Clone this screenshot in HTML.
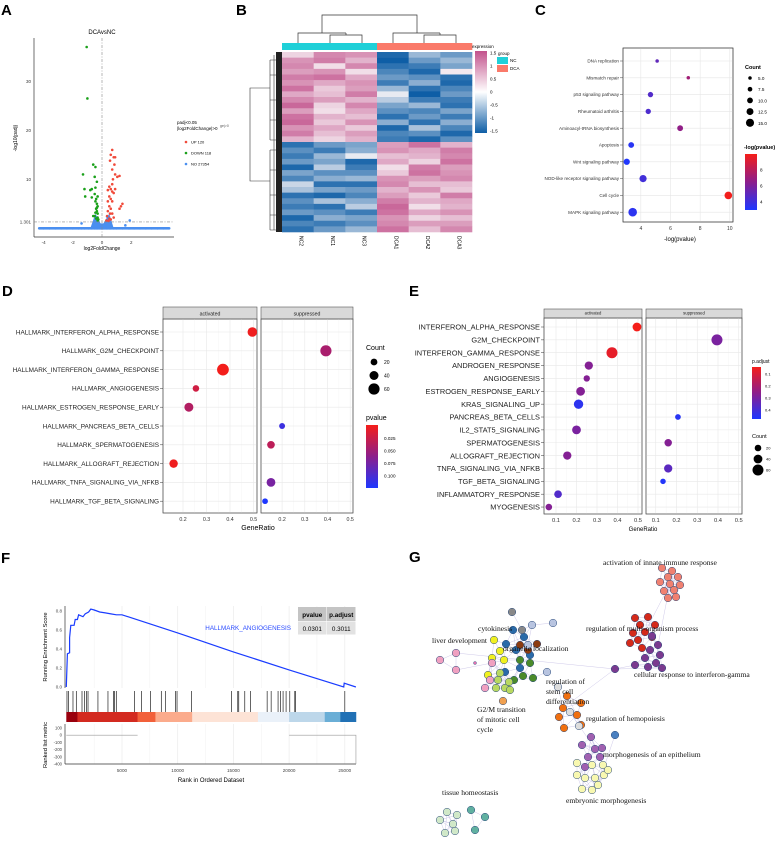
<!DOCTYPE html>
<html><head><meta charset="utf-8"><title>Figure</title>
<style>
html,body{margin:0;padding:0;background:#fff;}
svg{display:block;font-family:"Liberation Sans",sans-serif;}
.pl{font-weight:bold;font-size:15px;}
.serif{font-family:"Liberation Serif",serif;}
</style></head>
<body>
<svg id="fig" width="783" height="841" viewBox="0 0 783 841" xmlns="http://www.w3.org/2000/svg">
<rect width="783" height="841" fill="#fff"/>
<text class="pl" x="1" y="15">A</text>
<text class="pl" x="236" y="15">B</text>
<text class="pl" x="535" y="15">C</text>
<text class="pl" x="2" y="296">D</text>
<text class="pl" x="409" y="296">E</text>
<text class="pl" x="1" y="563">F</text>
<text class="pl" x="409" y="562">G</text>

<g stroke="#333" stroke-width="0.7" fill="none">
<path d="M322,33 V15 H417 V33"/>
<path d="M298,43 V33 H346"/><path d="M330,43 V35 H362 V43"/>
<path d="M393,43 V33 H440"/><path d="M424,43 V35 H456 V43"/>
<path d="M346,33 V35"/><path d="M440,33 V35"/>
</g>
<g stroke="#333" stroke-width="0.6" fill="none">
<path d="M270,88 H250 V181 H270"/>
<path d="M270,60 V140 M270,150 V230"/>
<path d="M270,60 H276 M270,75 H276 M270,100 H276 M270,120 H276 M270,140 H276 M270,150 H276 M270,170 H276 M270,195 H276 M270,215 H276 M270,230 H276"/>
<path d="M274,55 V230"/>
</g>
<rect x="276" y="52" width="6" height="180" fill="#222"/>
</svg>
<script>
const NS='http://www.w3.org/2000/svg';
const svg=document.getElementById('fig');
function mk(tag,attrs,parent){const e=document.createElementNS(NS,tag);for(const k in attrs)e.setAttribute(k,attrs[k]);(parent||svg).appendChild(e);return e;}
function tx(x,y,s,size,opts){const e=mk('text',Object.assign({x:x,y:y,'font-size':size},opts||{}));e.textContent=s;return e;}
function lerpCol(c1,c2,t){t=Math.max(0,Math.min(1,t));const r=Math.round(c1[0]+(c2[0]-c1[0])*t),g=Math.round(c1[1]+(c2[1]-c1[1])*t),b=Math.round(c1[2]+(c2[2]-c1[2])*t);return 'rgb('+r+','+g+','+b+')';}
const RED=[245,30,25],PUR=[140,30,140],BLU=[30,55,255];
function rb(t){return t<0.5?lerpCol(RED,PUR,t*2):lerpCol(PUR,BLU,(t-0.5)*2);}

/* ================= Panel A: volcano ================= */
const volcDownX=[-1.05,-1.0,-0.6,-0.45,-1.3,-0.5,-0.35,-1.2,-0.8,-0.7,-0.45,-0.5,-0.3,-1.15,-0.7,-0.4,-0.35,-0.45,-0.3,-0.4,-0.35,-0.3,-0.5,-0.3,-0.25,-0.4,-0.6,-0.3,-0.45,-0.35];
const volcDownY=[37,26.5,13,12.5,11,10.5,9.5,8,7.8,8,8.3,7,6.5,6.5,6.3,6,5,5.5,4.5,4,3.5,3,2.5,2.2,1.8,2,2.5,1.6,3.2,4.2];
const volcUpX=[0.7,0.6,0.8,0.9,0.55,0.85,0.7,0.9,1.2,1.05,0.75,0.7,0.5,0.9,0.4,0.6,0.7,0.8,0.5,0.6,0.4,0.7,1.4,1.3,1.2,0.5,0.6,0.4,0.55,0.7,0.35,0.5,0.6,0.3,0.8,0.45];
const volcUpY=[16,15,14.5,14.5,13.8,13,12,11,10.7,10.5,10,9,8.5,8,7.8,8,7.5,7.2,6.5,6,5.5,5.5,5,4.5,4,4.5,4,3.5,3,3,2.5,2,1.8,1.6,2.2,1.5];
const volcNsX=[-4.3,-4.0,-3.6,-3.2,-2.8,-2.4,-2.0,-1.6,-1.4,-1.2,-0.9,-0.7,-0.5,-0.4,-0.3,-0.2,-0.1,0.1,0.2,0.3,0.4,0.5,0.6,0.8,1.0,1.4,1.8,1.9,2.2,2.6,3.0,3.4,3.8,4.2,4.6,-0.6,-0.5,-0.45,-0.4,-0.35,-0.3,-0.25,0.25,0.3,0.35,0.4,0.45,0.5,0.55,-1.4,1.6,1.9];
const volcNsY=[0,0,0,0,0,0,0,0,0,0,0,0,0,0,0,0,0,0,0,0,0,0,0,0,0,0,0,0,0,0,0,0,0,0,0,0.5,1.2,0.8,1.6,2.2,1.0,0.4,0.6,1.4,2.4,1.0,1.8,0.7,1.2,1.0,0.6,1.6];
const volcXTicks=[-4,-2,0,2];
const volcYTicks=[1.301,10,20,30];
const ax=v=>102+v*14.6, ay=v=>228.3-v*4.9;
{
 let l=mk('line',{x1:34,y1:38,x2:34,y2:237,stroke:'#333','stroke-width':0.7});
 
 
 l=mk('line',{x1:34,y1:237,x2:174,y2:237,stroke:'#333','stroke-width':0.7});
 
 
 const band=mk('rect',{x:ax(-4.3),y:ay(0)-1.3,width:ax(4.6)-ax(-4.3),height:2.6,fill:'#4a8ff0'});
 
 
 const blob=mk('path',{d:'M'+ax(-0.8)+','+ay(0)+' L'+ax(-0.45)+','+ay(3)+' L'+ax(-0.1)+','+ay(1)+' L'+ax(0.1)+','+ay(1)+' L'+ax(0.5)+','+ay(3)+' L'+ax(0.8)+','+ay(0)+'Z',fill:'#4a8ff0'});
 
 
 for(let i=0;i<volcNsX.length;i++){const c=mk('circle',{cx:ax(volcNsX[i]),cy:ay(volcNsY[i]),r:1.3,fill:'#4a8ff0'});
  
  }
 for(let i=0;i<volcDownX.length;i++){const c=mk('circle',{cx:ax(volcDownX[i]),cy:ay(volcDownY[i]),r:1.3,fill:'#1aa01a'});
  
  }
 for(let i=0;i<volcUpX.length;i++){const c=mk('circle',{cx:ax(volcUpX[i]),cy:ay(volcUpY[i]),r:1.3,fill:'#f04a3a'});
  
  }
 l=mk('line',{x1:34,y1:ay(1.301),x2:174,y2:ay(1.301),stroke:'#888','stroke-width':0.6,'stroke-dasharray':'3,1.5,1,1.5'});
 
 
 l=mk('line',{x1:ax(0),y1:38,x2:ax(0),y2:237,stroke:'#888','stroke-width':0.6,'stroke-dasharray':'3,1.5,1,1.5'});
 
 
 for(const t of volcXTicks){const e=tx(ax(t),244,String(t),4.5,{'text-anchor':'middle',fill:'#333'});
  
  }
 for(const t of volcYTicks){const e=tx(31,ay(t)+1.5,String(t),4.5,{'text-anchor':'end',fill:'#333'});
  
  }
 let e=tx(102,34,'DCAvsNC',6,{'text-anchor':'middle'});
 
 
 e=tx(102,250,'log2FoldChange',5,{'text-anchor':'middle'});
 
 
 e=tx(0,0,'-log10(padj)',5,{'text-anchor':'middle',transform:'translate(17,138) rotate(-90)'});
 
 
 e=tx(177,124,'padj<0.05',4.5,{});
 
 
 e=tx(177,130,'|log2FoldChange|>0',4.5,{});
 
 
 const legLab=['UP 120','DOWN 118','NO 27354'],legCol=['#f04a3a','#1aa01a','#4a8ff0'];
 for(let i=0;i<3;i++){const c=mk('circle',{cx:186,cy:142+i*11,r:1.3,fill:legCol[i]});
  
  
  const t=tx(191,143.5+i*11,legLab[i],4,{});
  
  }
}

/* ================= Panel B: heatmap ================= */
const hmSamples=['NC2','NC1','NC3','DCA1','DCA2','DCA3'];
const hmValues=[
[0.3,1.0,0.9,-1.4,-0.6,-0.9],[0.9,1.1,0.6,-1.5,-0.9,-0.6],[1.0,0.2,1.0,-1.3,-1.2,-0.8],[0.8,0.9,0.2,-1.1,-1.4,0.1],
[1.1,1.2,0.7,-0.9,-1.0,-1.3],[0.9,0.7,0.9,-1.2,-0.7,-1.4],[1.2,0.4,0.8,-0.6,-1.3,-1.1],[0.7,0.5,1.1,-0.1,-1.5,-0.9],
[1.0,0.8,0.6,-0.4,-1.2,-1.2],[1.3,0.3,1.0,-0.8,-0.6,-1.3],[0.8,0.2,0.7,-1.0,-1.1,-0.8],[1.2,0.6,0.5,-1.3,-0.9,-1.2],
[1.3,0.4,0.9,-0.7,-1.3,-0.7],[0.9,0.7,0.4,-1.4,-0.5,-1.1],[1.1,0.5,0.8,-1.1,-1.0,-1.4],[0.6,0.3,0.6,-1.2,-1.4,-1.0],
[-1.3,-0.9,-0.8,0.8,1.2,0.6],[-1.0,-1.2,-0.7,0.9,0.7,1.1],[-1.2,-0.6,-0.1,0.5,0.6,1.0],[-0.9,-0.8,-1.4,0.7,0.3,1.2],
[-1.4,-0.4,-1.2,0.2,1.1,0.8],[-0.8,-1.0,-1.0,0.4,1.2,0.9],[-1.1,-0.7,-0.6,0.9,0.8,1.0],[-0.3,-1.3,-1.3,1.0,0.5,0.5],
[-0.5,-0.8,-0.9,0.6,0.9,0.4],[-1.3,-1.4,-1.1,0.8,0.4,1.1],[-1.0,-0.5,-0.7,1.1,0.6,0.7],[-1.2,-1.3,-0.4,1.3,0.2,0.6],
[-0.9,-1.0,-1.2,1.2,0.7,0.9],[-1.4,-0.7,-0.8,0.9,0.3,0.5],[-1.1,-1.2,-1.0,1.0,0.8,0.8],[-1.3,-0.9,-0.6,1.2,0.5,1.0]];
const hmLegendTicks=[1.5,1,0.5,0,-0.5,-1,-1.5];
const HB=[14,94,166],HW=[248,244,246],HP=[194,82,140];
function hmCol(v){return v<0?lerpCol(HW,HB,-v/1.5):lerpCol(HW,HP,v/1.5);}
{
 const x0=282,x1=472,y0=52,y1=232,cw=(x1-x0)/hmSamples.length,rh=(y1-y0)/hmValues.length;
 for(let r=0;r<hmValues.length;r++)for(let c=0;c<hmSamples.length;c++){
  const e=mk('rect',{x:x0+c*cw,y:y0+r*rh,width:cw+0.3,height:rh+0.3,fill:hmCol(hmValues[r][c])});
  
  }
 for(let c=0;c<hmSamples.length;c++){
  const g=mk('rect',{x:x0+c*cw,y:43,width:cw+0.3,height:7,fill:c<3?'#1fd0d8':'#fa7a6a'});
  
  
  const cx=x0+(c+0.5)*cw;
  const t=tx(0,0,hmSamples[c],5,{'text-anchor':'start',transform:'translate('+(cx+1.5)+',236) rotate(90)'});
  
  }
 const defs=mk('defs',{});
 const lg=mk('linearGradient',{id:'hmg',x1:0,y1:0,x2:0,y2:1},defs);
 mk('stop',{offset:'0','stop-color':'rgb(194,82,140)'},lg);mk('stop',{offset:'0.5','stop-color':'#fff'},lg);mk('stop',{offset:'1','stop-color':'rgb(14,94,166)'},lg);
 const gb=mk('rect',{x:475,y:51,width:12,height:82,fill:'url(#hmg)'});
 
 
 for(const t of hmLegendTicks){const e=tx(490,92-t*26+1.5,String(t),4.5,{});
  
  }
 let e=tx(472,48,'expression',4.5,{});
 
 
 e=tx(498,55,'group',4.5,{});
 
 
 const gl=['NC','DCA'],gc=['#1fd0d8','#fa7a6a'];
 for(let i=0;i<2;i++){const r=mk('rect',{x:497,y:57+i*8,width:11,height:7,fill:gc[i]});
  
  
  const t=tx(510,62+i*8,gl[i],4.5,{});
  
  }
 e=tx(220,127,'ge|>0',3.5,{fill:'#555'});
 
 
}

/* ================= Panel C: KEGG bubble ================= */
const keggTerms=['DNA replication','Mismatch repair','p53 signaling pathway','Rheumatoid arthritis','Aminoacyl-tRNA biosynthesis','Apoptosis','Wnt signaling pathway','NOD-like receptor signaling pathway','Cell cycle','MAPK signaling pathway'];
const keggLogP=[5.1,7.2,4.65,4.5,6.65,3.35,3.05,4.15,9.9,3.45];
const keggCount=[5,5,9,9,10,10,11,13,14,16];
const keggXTicks=[4,6,8,10];
const keggCountLegend=[5.0,7.5,10.0,12.5,15.0];
const keggColorTicks=[8,6,4];
{
 const L=623,R=733;
 const cx=v=>626+(v-3)*14.83, cy=i=>61+i*16.8, cr=n=>0.6+n*0.23;
 const cc=v=>rb(1-(v-3)/7);
 mk('rect',{x:L,y:48,width:R-L,height:174,fill:'#fff',stroke:'#444','stroke-width':0.6});
 for(const t of keggXTicks){mk('line',{x1:cx(t),y1:48,x2:cx(t),y2:222,stroke:'#e6e6e6','stroke-width':0.6});
  const e=tx(cx(t),230,String(t),5,{'text-anchor':'middle',fill:'#333'});
  
  }
 for(let i=0;i<keggTerms.length;i++){mk('line',{x1:L,y1:cy(i),x2:R,y2:cy(i),stroke:'#e6e6e6','stroke-width':0.6});
  mk('line',{x1:L-3,y1:cy(i),x2:L,y2:cy(i),stroke:'#444','stroke-width':0.5});
  const e=tx(L-4,cy(i)+1.6,keggTerms[i],4.6,{'text-anchor':'end',fill:'#333'});
  
  }
 mk('rect',{x:L,y:48,width:R-L,height:174,fill:'none',stroke:'#444','stroke-width':0.6});
 for(let i=0;i<keggTerms.length;i++){const c=mk('circle',{cx:cx(keggLogP[i]),cy:cy(i),r:cr(keggCount[i]),fill:cc(keggLogP[i])});
  
  }
 let e=tx(680,241,'-log(pvalue)',6,{'text-anchor':'middle'});
 
 
 e=tx(745,69,'Count',5.5,{'font-weight':'bold'});
 
 
 for(let i=0;i<keggCountLegend.length;i++){const c=mk('circle',{cx:750,cy:78+i*11.2,r:cr(keggCountLegend[i]),fill:'#000'});
  
  
  const t=tx(758,80+i*11.2,keggCountLegend[i].toFixed(1),4.6,{});
  
  }
 e=tx(744,149,'-log(pvalue)',5.5,{'font-weight':'bold'});
 
 
 const defs=mk('defs',{});
 const lg=mk('linearGradient',{id:'cg',x1:0,y1:0,x2:0,y2:1},defs);
 mk('stop',{offset:'0','stop-color':rb(0)},lg);mk('stop',{offset:'0.5','stop-color':rb(0.5)},lg);mk('stop',{offset:'1','stop-color':rb(1)},lg);
 const gb=mk('rect',{x:745,y:154,width:12,height:56,fill:'url(#cg)'});
 
 
 for(const t of keggColorTicks){const y=154+(10-t)/7*56;const e=tx(760,y+1.5,String(t),4.6,{});
  
  }
}

/* ================= Facet dot plots (D, E) ================= */
function facetPanel(o){
 const panels=[{x0:o.ax0,x1:o.ax1,z:o.azero,s:o.ascale,title:'activated'},{x0:o.sx0,x1:o.sx1,z:o.szero,s:o.sscale,title:'suppressed'}];
 for(const p of panels){
  mk('rect',{x:p.x0,y:o.top,width:p.x1-p.x0,height:o.bottom-o.top,fill:'#fff',stroke:'#555','stroke-width':0.6});
  const st=mk('rect',{x:p.x0,y:o.stripTop,width:p.x1-p.x0,height:o.top-o.stripTop,fill:'#d9d9d9',stroke:'#555','stroke-width':0.6});
  
  
  const e=tx((p.x0+p.x1)/2,o.top-3.5,p.title,o.stripFont,{'text-anchor':'middle',fill:'#222'});
  
  
  for(const t of o.xticks){const x=p.z+t*p.s;if(x<p.x0-0.5||x>p.x1+0.5)continue;
   mk('line',{x1:x,y1:o.top,x2:x,y2:o.bottom,stroke:'#e8e8e8','stroke-width':0.6});
   const mx=x+p.s*0.05;if(mx<p.x1)mk('line',{x1:mx,y1:o.top,x2:mx,y2:o.bottom,stroke:'#f3f3f3','stroke-width':0.4});
   const tl=tx(x,o.bottom+8,String(t),o.tickFont,{'text-anchor':'middle',fill:'#333'});
   
   }
  for(let i=0;i<o.terms.length;i++){const y=o.y0+i*o.dy;mk('line',{x1:p.x0,y1:y,x2:p.x1,y2:y,stroke:'#e8e8e8','stroke-width':0.6});}
  mk('rect',{x:p.x0,y:o.top,width:p.x1-p.x0,height:o.bottom-o.top,fill:'none',stroke:'#555','stroke-width':0.6});
 }
 for(let i=0;i<o.terms.length;i++){const y=o.y0+i*o.dy;
  mk('line',{x1:o.ax0-3,y1:y,x2:o.ax0,y2:y,stroke:'#333','stroke-width':0.5});
  const e=tx(o.ax0-4,y+o.labFont*0.36,o.terms[i],o.labFont,{'text-anchor':'end',fill:'#222'});
  
  
  const side=o.side[i],p=panels[side];
  const c=mk('circle',{cx:p.z+o.ratio[i]*p.s,cy:y,r:o.rad(o.count[i]),fill:o.col(o.pv[i])});
  
  }
 const e=tx((o.ax0+o.sx1)/2,o.bottom+17,'GeneRatio',o.axFont,{'text-anchor':'middle'});
 
 
}

/* Panel D */
const dTerms=['HALLMARK_INTERFERON_ALPHA_RESPONSE','HALLMARK_G2M_CHECKPOINT','HALLMARK_INTERFERON_GAMMA_RESPONSE','HALLMARK_ANGIOGENESIS','HALLMARK_ESTROGEN_RESPONSE_EARLY','HALLMARK_PANCREAS_BETA_CELLS','HALLMARK_SPERMATOGENESIS','HALLMARK_ALLOGRAFT_REJECTION','HALLMARK_TNFA_SIGNALING_VIA_NFKB','HALLMARK_TGF_BETA_SIGNALING'];
const dSide=[0,1,0,0,0,1,1,0,1,1];
const dRatio=[0.495,0.393,0.37,0.255,0.225,0.2,0.151,0.16,0.151,0.125];
const dCount=[45,60,65,18,40,12,28,35,38,10];
const dPvalue=[0.008,0.045,0.006,0.025,0.04,0.1,0.035,0.008,0.07,0.115];
const dXTicks=[0.2,0.3,0.4,0.5];
const dCountLegend=[20,40,60];
const dPTicks=['0.025','0.050','0.075','0.100'];
facetPanel({terms:dTerms,side:dSide,ratio:dRatio,count:dCount,pv:dPvalue,xticks:dXTicks,
 ax0:163,ax1:257,azero:136,ascale:235,sx0:261,sx1:353,szero:236.7,sscale:227,
 stripTop:307,top:319,bottom:513,y0:332,dy:18.8,labFont:6.4,stripFont:5.2,tickFont:5.3,axFont:7,
 rad:n=>2.3+n*0.055,col:v=>rb((v-0.005)/0.11)});
{
 let e=tx(366,350,'Count',7,{});
 
 
 for(let i=0;i<dCountLegend.length;i++){const c=mk('circle',{cx:374,cy:362+i*13.5,r:2.3+dCountLegend[i]*0.055,fill:'#000'});
  
  
  const t=tx(384,364+i*13.5,String(dCountLegend[i]),5,{});
  
  }
 e=tx(366,420,'pvalue',7,{});
 
 
 const defs=mk('defs',{});
 const lg=mk('linearGradient',{id:'dg',x1:0,y1:0,x2:0,y2:1},defs);
 mk('stop',{offset:'0','stop-color':rb(0)},lg);mk('stop',{offset:'0.5','stop-color':rb(0.5)},lg);mk('stop',{offset:'1','stop-color':rb(1)},lg);
 const gb=mk('rect',{x:366,y:425,width:12,height:63,fill:'url(#dg)'});
 
 
 for(let i=0;i<dPTicks.length;i++){const t=tx(384,440+i*12.5,dPTicks[i],4.6,{});
  
  }
}

/* Panel E */
const eTerms=['INTERFERON_ALPHA_RESPONSE','G2M_CHECKPOINT','INTERFERON_GAMMA_RESPONSE','ANDROGEN_RESPONSE','ANGIOGENESIS','ESTROGEN_RESPONSE_EARLY','KRAS_SIGNALING_UP','PANCREAS_BETA_CELLS','IL2_STAT5_SIGNALING','SPERMATOGENESIS','ALLOGRAFT_REJECTION','TNFA_SIGNALING_VIA_NFKB','TGF_BETA_SIGNALING','INFLAMMATORY_RESPONSE','MYOGENESIS'];
const eSide=[0,1,0,0,0,0,0,1,0,1,0,1,1,0,0];
const eRatio=[0.495,0.395,0.373,0.26,0.25,0.22,0.21,0.207,0.2,0.16,0.155,0.16,0.135,0.11,0.065];
const eCount=[40,60,60,35,18,40,45,12,40,28,35,35,10,30,20];
const ePadj=[0.05,0.3,0.08,0.28,0.28,0.28,0.45,0.46,0.3,0.28,0.28,0.36,0.47,0.38,0.28];
const eXTicks=[0.1,0.2,0.3,0.4,0.5];
const eCountLegend=[20,40,60];
const ePTicks=[0.1,0.2,0.3,0.4];
facetPanel({terms:eTerms,side:eSide,ratio:eRatio,count:eCount,pv:ePadj,xticks:eXTicks,
 ax0:544,ax1:642,azero:535.5,ascale:205,sx0:646,sx1:742,szero:635,sscale:207.5,
 stripTop:309,top:318,bottom:514,y0:327,dy:12.86,labFont:7.4,stripFont:4.2,tickFont:5.8,axFont:6,
 rad:n=>2.2+n*0.055,col:v=>rb((v-0.05)/0.43)});
{
 let e=tx(752,363,'p.adjust',5,{});
 
 
 const defs=mk('defs',{});
 const lg=mk('linearGradient',{id:'eg',x1:0,y1:0,x2:0,y2:1},defs);
 mk('stop',{offset:'0','stop-color':rb(0)},lg);mk('stop',{offset:'0.5','stop-color':rb(0.5)},lg);mk('stop',{offset:'1','stop-color':rb(1)},lg);
 const gb=mk('rect',{x:752,y:367,width:9,height:52,fill:'url(#eg)'});
 
 
 for(const t of ePTicks){const t2=tx(765,374+(t-0.1)*120+1.5,String(t),4,{});
  
  }
 e=tx(752,438,'Count',5.5,{});
 
 
 for(let i=0;i<eCountLegend.length;i++){const c=mk('circle',{cx:758,cy:448+i*11,r:2.2+eCountLegend[i]*0.055,fill:'#000'});
  
  
  const t=tx(766,449.5+i*11,String(eCountLegend[i]),4,{});
  
  }
}

/* ================= Panel F: GSEA ================= */
const gseaRank=[0,100,300,300,400,700,800,1000,1100,1500,1700,2000,2200,2500,3000,3500,4000,4500,5000,10000,15000,20000,24900,24950,26000];
const gseaES=[0,0.35,0.36,0.52,0.65,0.65,0.71,0.71,0.76,0.74,0.77,0.79,0.82,0.81,0.79,0.78,0.77,0.76,0.76,0.57,0.37,0.18,0.0,0.04,0.0];
const gseaHits=[60,210,600,900,1410,1620,1800,1950,2840,3740,4250,4340,4490,6110,6740,7550,8530,8890,9790,9940,11230,14820,15390,15480,16020,16530,18030,18390,19010,19220,19460,19730,20060,20510,20570,25000];
const gseaBandStart=[0,1000,6400,8000,11300,17200,20000,23200,24600];
const gseaBandEnd=[1000,6400,8000,11300,17200,20000,23200,24600,26000];
const gseaBandColor=['#99000d','#d32a20','#f2603a','#fbab8c','#fde3d6','#eaf1f9','#bdd7ea','#6aaed6','#2171b5'];
const gseaESTicks=[0.0,0.2,0.4,0.6,0.8];
const gseaMetricTicks=[100,0,-100,-200,-300,-400];
const gseaXTicks=[5000,10000,15000,20000,25000];
{
 const fx=r=>66.3+r*55.7/5000, fy=v=>687-v*95, my=m=>735.2-m*0.072;
 for(let r=2500;r<=25000;r+=2500){mk('line',{x1:fx(r),y1:606,x2:fx(r),y2:688,stroke:'#ececec','stroke-width':r%5000?0.4:0.7});
  mk('line',{x1:fx(r),y1:724,x2:fx(r),y2:764,stroke:'#ececec','stroke-width':r%5000?0.4:0.7});}
 mk('line',{x1:65,y1:606,x2:65,y2:688,stroke:'#333','stroke-width':0.7});
 mk('line',{x1:65,y1:724,x2:65,y2:764,stroke:'#333','stroke-width':0.7});
 mk('line',{x1:65,y1:764,x2:356,y2:764,stroke:'#333','stroke-width':0.7});
 for(const t of gseaESTicks){const e=tx(62,fy(t)+1.5,t.toFixed(1),4.5,{'text-anchor':'end',fill:'#444'});
  
  }
 for(const t of gseaMetricTicks){const e=tx(62,my(t)+1.5,String(t),4.2,{'text-anchor':'end',fill:'#444'});
  
  }
 for(const t of gseaXTicks){const e=tx(fx(t),772,String(t),4.6,{'text-anchor':'middle',fill:'#444'});
  
  }
 let pts=gseaRank.map((r,i)=>fx(r).toFixed(1)+','+fy(gseaES[i]).toFixed(1)).join(' ');
 const pl=mk('polyline',{points:pts,fill:'none',stroke:'#1a3cff','stroke-width':1.2});
 
 
 for(const h of gseaHits){const l=mk('line',{x1:fx(h),y1:691,x2:fx(h),y2:712,stroke:'#222','stroke-width':0.7});
  
  }
 for(let i=0;i<gseaBandStart.length;i++){const r=mk('rect',{x:fx(gseaBandStart[i]),y:712,width:fx(gseaBandEnd[i])-fx(gseaBandStart[i])+0.3,height:10,fill:gseaBandColor[i]});
  
  }
 let l=mk('line',{x1:fx(0),y1:my(0),x2:fx(6400),y2:my(0),stroke:'#999','stroke-width':0.6});
 
 
 l=mk('path',{d:'M'+fx(20000)+','+my(0)+' H'+fx(26000)+' V'+my(-400),fill:'none',stroke:'#999','stroke-width':0.6});
 
 
 let e=tx(0,0,'Running Enrichment Score',5.8,{'text-anchor':'middle',transform:'translate(47,647) rotate(-90)'});
 
 
 e=tx(0,0,'Ranked list metric',5.8,{'text-anchor':'middle',transform:'translate(47,745) rotate(-90)'});
 
 
 e=tx(211,782,'Rank in Ordered Dataset',6,{'text-anchor':'middle'});
 
 
 e=tx(291,630,'HALLMARK_ANGIOGENESIS',6.3,{'text-anchor':'end',fill:'#2a4bff'});
 
 
 const hdr=['pvalue','p.adjust'],vals=['0.0301','0.3011'],cx=[298,327];
 for(let i=0;i<2;i++){
  let r=mk('rect',{x:cx[i],y:607,width:28.5,height:14,fill:'#c4c4c4'});
  
  
  r=mk('rect',{x:cx[i],y:621.5,width:28.5,height:13,fill:'#e2e2e2'});
  
  
  let t=tx(cx[i]+14.25,617,hdr[i],6.3,{'text-anchor':'middle','font-weight':'bold'});
  
  
  t=tx(cx[i]+14.25,631,vals[i],6.3,{'text-anchor':'middle'});
  
  }
}

/* ================= Panel G: network ================= */
const netClusterColor=['#f08070','#d42a1a','#7a3a8f','#2a6aa8','#4a8a2a','#f0f020','#b8d860','#8b3a10','#888888','#b8c4e0','#f0a0c0','#f07010','#dddddd','#a060b0','#f8f8b0','#4a80c0','#d0e8c8','#60b0a0','#f0a050'];
const netNodeX=[662,672,668,678,660,670,680,664,674,668,676, 635,648,655,640,633,645,652,638,630,642, 652,658,650,660,645,656,635,615,648,662,
513,524,506,516,505,530,520, 520,530,523,533,514, 494,500,492,504,488, 500,498,505,496,510,509, 520,537,528, 512,522, 532,553,547,528, 440,456,456,492,490,485,
567,581,563,577,559,564,581, 570,579,558, 591,582,595,602,588,600,585, 577,592,603,577,585,595,604,608,582,592,598, 615, 447,440,453,457,445,455, 471,485,475, 503];
const netNodeY=[568,571,577,577,582,584,585,591,590,598,597, 618,617,625,625,633,632,637,640,643,648, 636,645,650,655,658,663,665,669,667,668,
630,637,644,650,672,655,668, 660,663,676,678,680, 640,651,658,660,675, 673,680,688,688,690,682, 645,644,650, 612,630, 625,623,672,645, 660,653,670,663,680,688,
696,703,708,715,717,728,725, 712,726,687, 737,745,749,748,757,757,767, 763,765,765,775,778,778,775,770,789,790,785, 735, 812,820,824,815,833,831, 810,817,830, 701];
const netNodeCluster=[0,0,0,0,0,0,0,0,0,0,0, 1,1,1,1,1,1,1,1,1,1, 2,2,2,2,2,2,2,2,2,2,
3,3,3,3,3,3,3, 4,4,4,4,4, 5,5,5,5,5, 6,6,6,6,6,6, 7,7,7, 8,8, 9,9,9,9, 10,10,10,10,10,10,
11,11,11,11,11,11,11, 12,12,12, 13,13,13,13,13,13,13, 14,14,14,14,14,14,14,14,14,14,14, 15, 16,16,16,16,16,16, 17,17,17, 18];
const netLabels=['activation of innate immune response','regulation of multi-organism process','cellular response to interferon-gamma','cytokinesis','liver development','organelle localization','regulation of','stem cell','differentiation','G2/M transition','of mitotic cell','cycle','regulation of hemopoiesis','morphogenesis of an epithelium','embryonic morphogenesis','tissue homeostasis'];
const netLabelX=[603,586,634,478,432,503,546,546,546,477,477,477,586,603,566,442];
const netLabelY=[565,631,677,631,643,651,684,694,704,712,722,732,721,757,803,795];
{
 const n=netNodeX.length;
 const eg=mk('g',{stroke:'#9a8fd0','stroke-width':0.4,opacity:0.6});
 for(let i=0;i<n;i++)for(let j=i+1;j<n;j++){
  const d=Math.hypot(netNodeX[i]-netNodeX[j],netNodeY[i]-netNodeY[j]);
  const same=netNodeCluster[i]===netNodeCluster[j];
  const grpA=netNodeCluster[i]>=3&&netNodeCluster[i]<=10&&netNodeCluster[j]>=3&&netNodeCluster[j]<=10;
  if((same&&d<22)||(grpA&&d<18)||(!same&&d<12)){const l=mk('line',{x1:netNodeX[i],y1:netNodeY[i],x2:netNodeX[j],y2:netNodeY[j]},eg);
   
   }}
 const bridges=[[30,28],[28,64],[28,71],[22,5],[5,16],[65,66],[71,78],[76,81],[79,84],[85,94],[96,97],[99,100]];
 for(const b of bridges){const l=mk('line',{x1:netNodeX[b[0]],y1:netNodeY[b[0]],x2:netNodeX[b[1]],y2:netNodeY[b[1]]},eg);
  
  }
 for(let i=0;i<n;i++){const c=mk('circle',{cx:netNodeX[i],cy:netNodeY[i],r:3.8,fill:netClusterColor[netNodeCluster[i]],stroke:'#2a4a7a','stroke-width':0.5});
  
  }
 const sm=mk('circle',{cx:475,cy:663,r:1.5,fill:'#e070b0',stroke:'#2a4a7a','stroke-width':0.4});
 
 
 for(let i=0;i<netLabels.length;i++){const t=tx(netLabelX[i],netLabelY[i],netLabels[i],7.6,{'class':'serif',fill:'#111'});
  
  }
}
</script>
</body></html>
